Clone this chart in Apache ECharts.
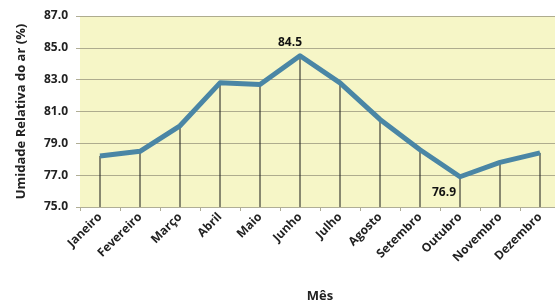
<!DOCTYPE html>
<html>
<head>
<meta charset="utf-8">
<script src="https://cdn.jsdelivr.net/npm/echarts@6/dist/echarts.min.js"></script>
<style>
  html, body { margin: 0; padding: 0; background: #ffffff; }
  #chart { width: 555px; height: 305px; }
</style>
</head>
<body>
<div id="chart"></div>
<script>
// monthly relative humidity (%)
const months = ['Janeiro', 'Fevereiro', 'Março', 'Abril', 'Maio', 'Junho',
    'Julho', 'Agosto', 'Setembro', 'Outubro', 'Novembro', 'Dezembro'];
const humidity = [78.2, 78.5, 80.1, 82.8, 82.7, 84.5, 82.8, 80.5, 78.6, 76.9, 77.8, 78.4];
const yTicks = [75, 77, 79, 81, 83, 85, 87];

const font = '"Open Sans", "DejaVu Sans", sans-serif';
const maxIdx = humidity.indexOf(Math.max(...humidity));
const minIdx = humidity.indexOf(Math.min(...humidity));

const chart = echarts.init(document.getElementById('chart'));

chart.setOption({
    animation: false,
    textStyle: { fontFamily: font },
    grid: {
        left: 80,
        top: 16,
        width: 480,
        height: 191,
        outerBoundsMode: 'none',
        containLabel: false,
        show: true,
        backgroundColor: '#f6f6c7',
        borderWidth: 0
    },
    xAxis: {
        type: 'category',
        data: months,
        boundaryGap: true,
        name: 'Mês',
        nameLocation: 'middle',
        nameGap: 83,
        nameTextStyle: { fontFamily: font, fontSize: 13, fontWeight: 700, color: '#222' },
        axisLine: { show: true, lineStyle: { color: '#b0ae96', width: 1 } },
        axisTick: { show: true, length: 4, lineStyle: { color: '#b0ae96' } },
        axisLabel: {
            rotate: 45,
            fontFamily: font,
            fontSize: 12,
            fontWeight: 700,
            color: '#222',
            margin: 8
        }
    },
    yAxis: {
        type: 'value',
        min: yTicks[0],
        max: yTicks[yTicks.length - 1],
        interval: 2,
        name: 'Umidade Relativa do ar (%)',
        nameLocation: 'middle',
        nameGap: 52,
        nameTextStyle: { fontFamily: font, fontSize: 13, fontWeight: 700, color: '#222' },
        axisLine: { show: false },
        axisTick: { show: true, length: 4, lineStyle: { color: '#b0ae96' } },
        splitLine: { show: true, lineStyle: { color: '#aeac8e', width: 1 } },
        axisLabel: {
            fontFamily: font,
            fontSize: 12,
            fontWeight: 700,
            color: '#222',
            margin: 12,
            formatter: v => v.toFixed(1)
        }
    },
    series: [
        {
            // drop lines from each point to the axis
            name: 'drop',
            type: 'bar',
            data: humidity,
            barWidth: 1,
            itemStyle: { color: '#1a1a1a' },
            silent: true,
            z: 1
        },
        {
            name: 'Umidade',
            type: 'line',
            data: humidity.map((v, i) => {
                if (i === maxIdx) {
                    return {
                        value: v,
                        label: { show: true, position: 'top', offset: [-10, -2] }
                    };
                }
                if (i === minIdx) {
                    return {
                        value: v,
                        label: { show: true, position: 'bottom', offset: [-16, 4] }
                    };
                }
                return v;
            }),
            showSymbol: true,
            symbol: 'circle',
            symbolSize: 1,
            itemStyle: { color: '#4a86a5' },
            lineStyle: { color: '#4a86a5', width: 5, join: 'round' },
            label: {
                show: false,
                fontFamily: font,
                fontSize: 12,
                fontWeight: 700,
                color: '#111',
                formatter: p => p.value.toFixed(1)
            },
            z: 3
        }
    ]
});
</script>
</body>
</html>
